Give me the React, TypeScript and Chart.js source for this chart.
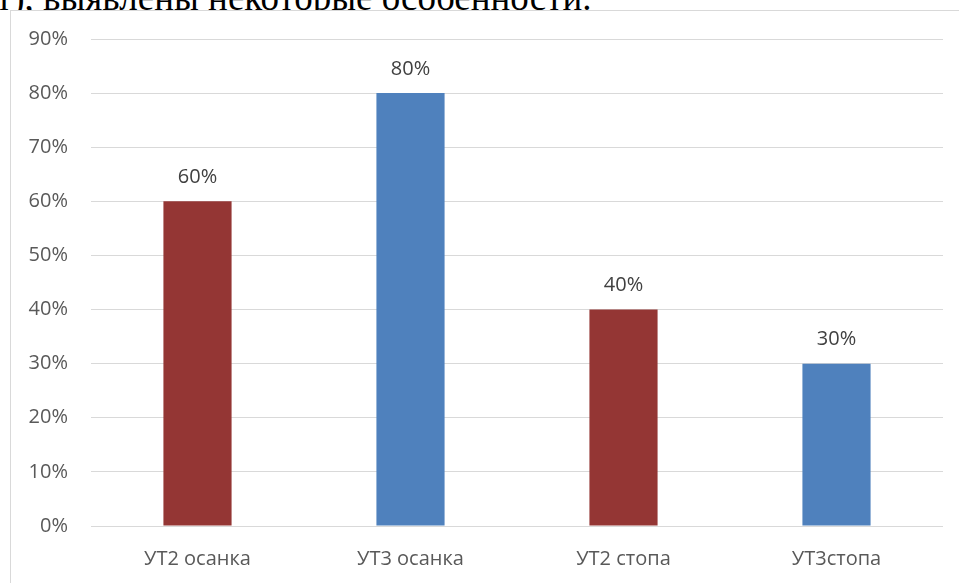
import React, { useEffect, useRef } from "react";
import { Chart, registerables } from "chart.js";

Chart.register(...registerables);

const categories = ["УТ2 осанка", "УТ3 осанка", "УТ2 стопа", "УТ3стопа"];
const values = [60, 80, 40, 30];
const barColors = ["#943634", "#4F81BD", "#943634", "#4F81BD"];
const yMax = 90;
const yStep = 10;
const headingText = "т), выявлены некоторые особенности.";

const FONT = "'Open Sans', 'Noto Sans', sans-serif";

const valueLabels = {
  id: "valueLabels",
  afterDatasetsDraw(chart: any) {
    const ctx = chart.ctx;
    const meta = chart.getDatasetMeta(0);
    ctx.save();
    ctx.font = `20px ${FONT}`;
    ctx.fillStyle = "#404040";
    ctx.textAlign = "center";
    ctx.textBaseline = "middle";
    meta.data.forEach((bar: any, i: number) => {
      const v = chart.data.datasets[0].data[i];
      ctx.fillText(`${v}%`, bar.x, bar.y - 24);
    });
    ctx.restore();
  },
};

export default function App() {
  const ref = useRef<HTMLCanvasElement>(null);

  useEffect(() => {
    if (!ref.current) return;
    const chart = new Chart(ref.current, {
      type: "bar",
      data: {
        labels: categories,
        datasets: [
          {
            data: values,
            backgroundColor: barColors,
            borderWidth: 0,
            categoryPercentage: 1,
            barPercentage: 0.32,
          },
        ],
      },
      options: {
        animation: false,
        responsive: false,
        devicePixelRatio: 1,
        layout: { padding: { left: 0, right: 16, top: 28, bottom: 0 } },
        plugins: {
          legend: { display: false },
          tooltip: { enabled: false },
          title: { display: false },
        },
        scales: {
          x: {
            grid: { display: false, drawTicks: false },
            border: { display: false },
            ticks: {
              color: "#595959",
              font: { family: FONT, size: 20 },
              padding: 21,
              maxRotation: 0,
              autoSkip: false,
            },
            afterFit(scale: any) {
              scale.height = 57;
              scale.paddingLeft = 0;
              scale.paddingRight = 0;
            },
          },
          y: {
            min: 0,
            max: yMax,
            grid: { color: "#D9D9D9", lineWidth: 1, drawTicks: false },
            border: { display: false },
            ticks: {
              stepSize: yStep,
              color: "#595959",
              font: { family: FONT, size: 20 },
              padding: 23,
              callback: (v: any) => `${v}%`,
            },
            afterFit(scale: any) {
              scale.width = 80;
              scale.paddingTop = 0;
              scale.paddingBottom = 0;
            },
          },
        },
      },
      plugins: [valueLabels],
    });
    return () => chart.destroy();
  }, []);

  return (
    <div
      style={{
        position: "fixed",
        left: 0,
        top: 0,
        width: 959,
        height: 583,
        overflow: "hidden",
        background: "#fff",
      }}
    >
      <div
        style={{
          position: "absolute",
          left: 0,
          top: 0,
          width: 959,
          height: 10,
          overflow: "hidden",
        }}
      >
        <div
          style={{
            position: "absolute",
            left: -4,
            top: -21.5,
            whiteSpace: "nowrap",
            fontFamily: "'Liberation Serif', 'Times New Roman', serif",
            fontSize: 37,
            lineHeight: "37px",
            color: "#000",
          }}
        >
          {headingText}
        </div>
      </div>
      <div
        style={{
          position: "absolute",
          left: 10,
          top: 10,
          width: 1000,
          height: 1000,
          border: "1px solid #D9D9D9",
          background: "#fff",
        }}
      />
      <canvas
        ref={ref}
        width={948}
        height={572}
        style={{ position: "absolute", left: 11, top: 11, width: 948, height: 572 }}
      />
    </div>
  );
}
